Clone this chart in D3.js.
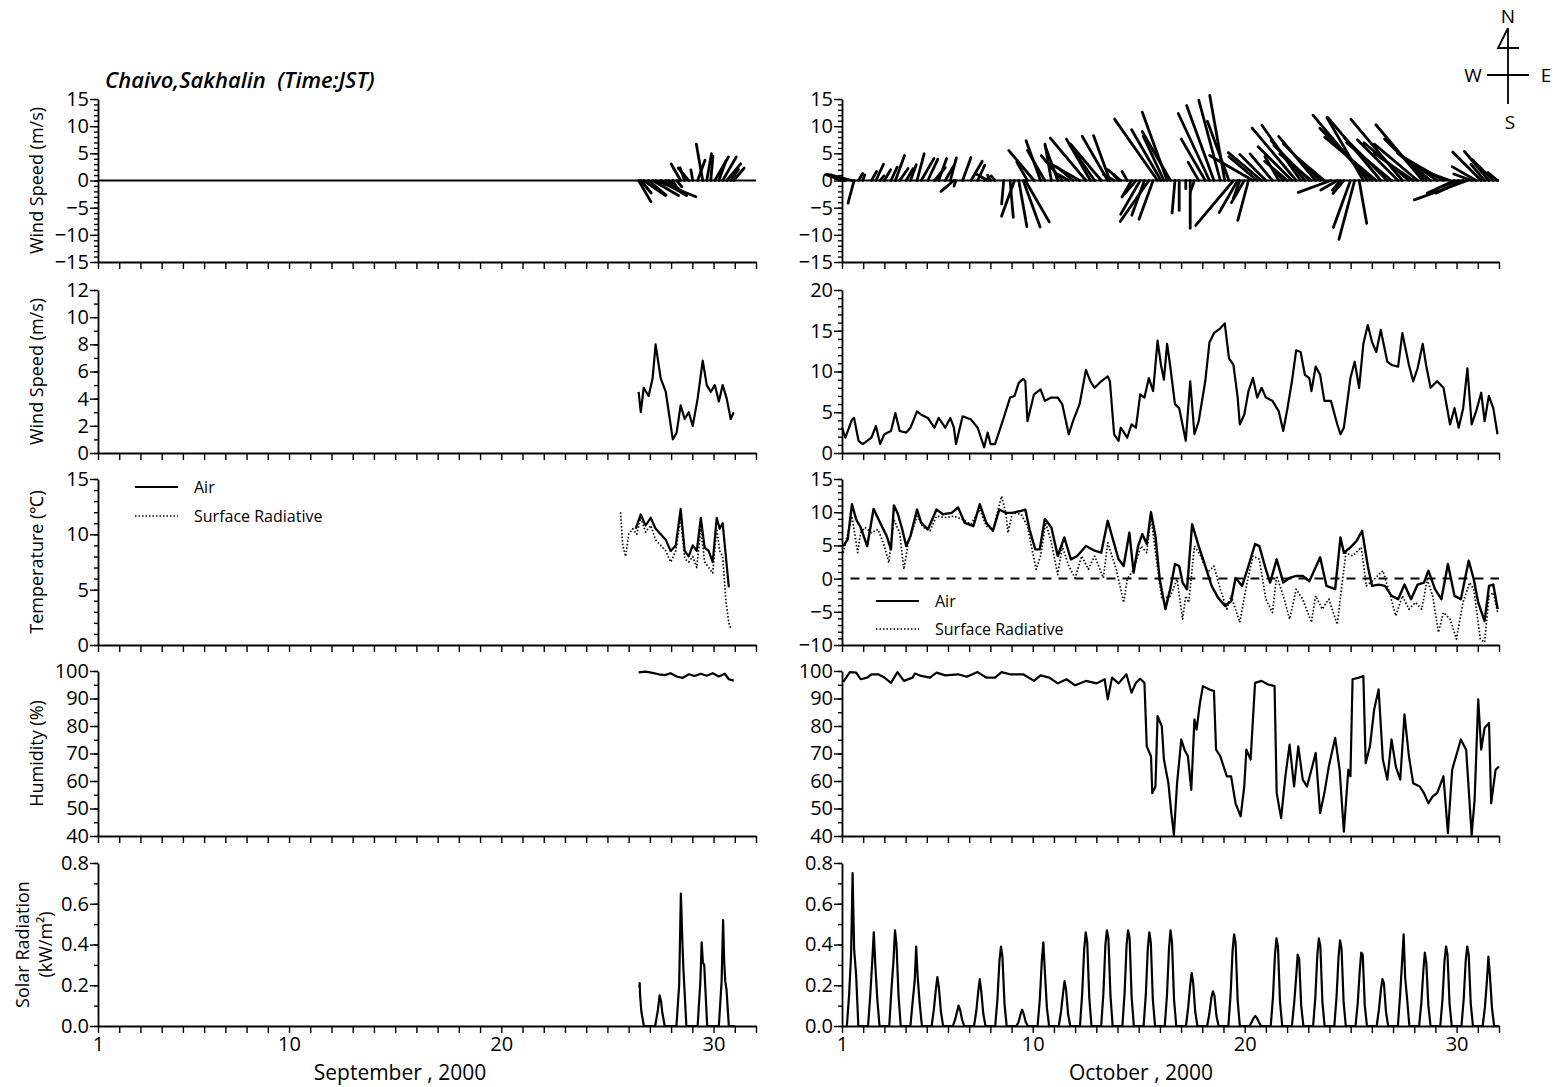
<!DOCTYPE html>
<html><head><meta charset="utf-8">
<script src="https://cdn.jsdelivr.net/npm/d3@7"></script>
<style>
body{margin:0;background:#fff}
svg{display:block}
text{font-family:"Open Sans",Lato,sans-serif;fill:#000}
</style>
</head><body>
<svg id="c" width="1555" height="1087"></svg>
<script>
// ---------------- DATA ----------------
const dayDomain = [1, 32];
const xTickLabels = [1, 10, 20, 30];
const monthLabels = ["September , 2000", "October , 2000"];
const titleText = "Chaivo,Sakhalin  (Time:JST)";
const yTitles = ["Wind Speed (m/s)", "Wind Speed (m/s)", "Temperature (\u2103)", "Humidity (%)", ["Solar Radiation", "(kW/m\u00B2)"]];
const legendLabels = ["Air", "Surface Radiative"];

// September wind (speed m/s, direction the stick points, deg from north)
const sepWsDay = [26.47,26.57,26.71,26.94,27.13,27.27,27.51,27.75,27.89,28.08,28.26,28.45,28.64,28.83,29.02,29.25,29.49,29.68,29.87,30.06,30.25,30.43,30.62,30.81,30.95];
const sepWs    = [4.5,3.0,4.8,4.2,5.5,8.0,5.5,4.5,3.0,1.0,1.5,3.5,2.5,3.0,2.0,4.0,6.8,5.0,4.5,5.0,3.8,5.0,4.0,2.5,3.0];
const sepWdir  = [150,140,125,130,120,112,120,125,130,150,140,330,340,320,350,20,350,10,5,30,20,30,40,35,40];

// October wind
const octWsDay = [1.00,1.16,1.47,1.57,1.78,1.98,2.39,2.60,2.80,3.00,3.31,3.52,3.72,4.03,4.23,4.54,4.74,5.05,5.36,5.56,5.87,6.11,6.28,6.38,6.69,7.09,7.40,7.71,7.87,8.01,8.22,8.63,8.93,9.14,9.34,9.55,9.65,9.75,10.06,10.37,10.57,10.88,11.18,11.39,11.70,11.90,12.21,12.51,12.72,12.92,13.23,13.54,13.64,13.84,14.05,14.15,14.46,14.66,14.87,15.07,15.27,15.48,15.68,15.89,16.05,16.19,16.34,16.50,16.71,16.91,17.22,17.43,17.63,17.83,18.14,18.34,18.55,18.85,19.06,19.26,19.47,19.67,19.77,19.98,20.18,20.39,20.59,20.80,21.00,21.31,21.61,21.82,22.02,22.23,22.43,22.64,22.84,23.05,23.15,23.35,23.56,23.76,24.07,24.37,24.52,24.68,24.99,25.19,25.40,25.60,25.81,26.01,26.21,26.42,26.73,26.93,27.24,27.44,27.75,27.95,28.16,28.40,28.56,28.77,29.08,29.38,29.69,29.90,30.10,30.31,30.51,30.71,30.92,31.16,31.32,31.52,31.73,31.93];
const octWs    = [3.1,1.9,4.1,4.3,1.5,1.1,1.9,3.3,1.1,2.3,2.7,4.9,2.7,2.5,3.1,5.1,4.7,4.3,3.1,4.3,3.1,4.3,3.1,1.1,4.5,4.1,3.1,0.7,2.5,1.1,1.1,4.3,6.8,7.0,8.6,9.1,8.8,3.9,7.2,7.8,6.4,6.8,6.8,6.0,2.3,3.9,6.0,10.2,8.8,8.0,8.8,9.4,8.8,2.3,1.5,3.1,1.9,3.5,3.1,7.2,6.8,9.2,7.6,13.8,10.8,9.0,13.4,10.4,6.0,5.5,1.5,8.8,2.3,3.9,8.8,13.6,14.7,15.3,15.9,11.6,10.8,6.8,3.5,4.7,7.6,9.2,6.8,8.0,6.8,6.4,5.1,2.7,5.5,8.8,12.6,12.4,9.6,9.2,7.6,10.6,9.6,6.4,6.4,3.5,2.3,3.1,9.2,11.2,8.0,13.4,15.7,13.6,12.4,15.1,11.2,10.8,10.6,14.7,10.8,8.8,10.4,13.4,10.8,8.0,8.8,8.0,3.5,5.5,3.1,5.5,10.4,3.5,5.1,7.4,3.9,7.0,5.5,2.3];
const octWdir  = [290,280,285,195,30,20,30,25,40,30,25,20,35,30,20,15,30,25,40,20,30,15,230,200,20,30,25,60,300,330,320,185,175,200,170,160,150,330,320,340,330,350,340,320,300,310,300,320,330,325,320,330,340,300,320,310,330,210,220,210,200,215,200,325,330,335,340,330,185,180,180,180,200,330,330,335,340,345,350,340,220,210,200,210,195,300,310,310,315,320,330,320,310,315,320,325,320,315,310,320,315,310,250,240,220,220,200,195,170,330,320,315,310,320,315,310,315,320,310,305,310,320,315,310,305,300,290,245,250,245,250,290,300,315,320,320,315,310];

// September temperature
const sepAirDay = [26.33,26.57,26.80,27.04,27.27,27.51,27.75,27.98,28.22,28.45,28.64,28.83,29.02,29.21,29.40,29.58,29.77,29.96,30.15,30.29,30.43,30.58,30.72];
const sepAir    = [10.5,11.8,10.8,11.5,10.5,10.0,9.5,8.5,9.0,12.3,8.5,8.0,9.0,8.5,11.5,8.8,8.5,7.5,11.5,10.5,11.0,8.0,5.2];
const sepSrfDay = [25.62,25.72,25.86,26.00,26.19,26.38,26.57,26.80,27.04,27.27,27.51,27.75,27.98,28.22,28.45,28.64,28.83,29.02,29.21,29.40,29.58,29.77,29.96,30.15,30.29,30.43,30.58,30.72,30.81];
const sepSrf    = [12.0,9.0,8.0,10.0,10.5,10.0,11.5,10.2,10.8,9.5,9.0,8.5,7.5,8.5,11.5,7.8,7.5,8.0,7.0,10.5,7.5,7.0,6.5,10.5,8.5,8.0,4.0,2.0,1.5];

// October temperature
const octAirDay = [1.06,1.27,1.47,1.67,1.88,2.19,2.49,2.80,3.11,3.31,3.45,3.62,3.82,4.03,4.23,4.54,4.74,5.05,5.46,5.76,6.17,6.48,6.79,7.20,7.50,7.81,8.12,8.42,8.73,9.04,9.45,9.65,9.85,10.12,10.33,10.57,10.88,11.18,11.49,11.80,12.10,12.51,12.92,13.23,13.54,13.74,14.05,14.29,14.56,14.76,14.97,15.17,15.38,15.58,15.79,15.99,16.26,16.50,16.71,16.91,17.07,17.28,17.52,17.83,18.14,18.44,18.75,19.06,19.36,19.57,19.88,20.18,20.49,20.69,21.00,21.20,21.51,21.82,22.12,22.43,22.74,23.05,23.35,23.56,23.86,24.27,24.52,24.68,24.99,25.29,25.54,25.81,26.01,26.32,26.62,26.93,27.24,27.54,27.85,28.16,28.46,28.67,28.98,29.28,29.59,29.90,30.20,30.57,30.81,31.02,31.32,31.53,31.73,31.94];
const octAir    = [4.9,5.9,11.2,8.9,7.7,4.9,10.5,8.4,6.4,4.4,11.0,9.9,7.7,4.9,6.4,10.4,8.4,7.4,10.4,9.7,9.9,10.7,8.4,7.9,11.2,8.4,7.2,10.4,9.9,9.9,10.2,10.4,7.4,4.4,4.4,9.0,7.7,3.4,6.2,2.9,3.4,4.9,4.2,3.9,8.7,6.4,2.9,1.9,6.9,0.9,4.9,6.7,5.2,10.0,6.4,-0.1,-4.6,-1.4,2.2,1.9,-0.6,-1.6,8.2,4.9,1.9,-1.1,-2.9,-4.1,-3.4,0.1,-1.1,1.9,5.2,4.9,1.4,-0.6,2.9,-0.6,0.1,0.4,0.4,-0.4,1.7,3.2,-1.1,-1.6,6.2,3.9,4.7,5.7,7.2,1.9,-1.1,-0.9,-1.1,-2.6,-3.1,-0.9,-3.1,-0.9,-0.6,1.2,-1.6,-3.1,2.2,-2.6,-3.1,2.7,-0.1,-3.6,-6.4,-1.1,-0.9,-4.6];
const octSrfDay = [1.06,1.47,1.74,1.88,2.08,2.39,2.70,3.00,3.21,3.45,3.72,3.92,4.13,4.54,4.84,5.15,5.46,5.87,6.28,6.69,7.09,7.50,7.81,8.12,8.53,8.73,8.83,9.04,9.45,9.75,10.00,10.16,10.37,10.61,10.88,11.18,11.39,11.70,12.00,12.31,12.62,12.92,13.33,13.54,13.94,14.29,14.46,14.76,15.11,15.38,15.58,15.79,16.09,16.50,16.81,17.07,17.22,17.36,17.63,17.93,18.24,18.55,18.85,19.16,19.36,19.77,20.08,20.39,20.69,21.00,21.31,21.51,21.82,22.12,22.43,22.74,23.15,23.35,23.66,23.97,24.37,24.58,24.78,25.09,25.50,25.74,26.11,26.52,26.83,27.13,27.44,27.75,28.06,28.36,28.61,28.87,29.14,29.38,29.69,29.99,30.30,30.61,30.81,31.12,31.32,31.53,31.73,31.94];
const octSrf    = [3.9,9.4,3.9,6.9,7.7,6.9,7.4,4.9,2.4,8.9,6.9,1.4,5.4,9.4,7.7,7.2,9.4,9.2,9.4,8.9,8.2,10.4,7.9,7.4,12.4,9.9,6.9,9.9,9.7,7.9,3.9,1.4,3.4,8.4,5.4,0.6,4.9,1.9,0.1,3.4,1.4,3.4,0.1,5.4,1.4,-3.6,-0.1,1.4,4.9,3.9,9.4,3.9,-3.1,-2.6,-0.1,-6.1,-2.6,-3.6,4.9,3.4,0.9,1.9,-1.6,-4.6,-2.6,-6.6,-1.1,3.4,2.9,-3.1,-5.1,0.4,-2.6,-6.1,-1.6,-3.1,-6.6,-2.6,-4.6,-3.1,-6.9,-1.1,3.9,3.4,4.7,-1.1,-0.1,1.2,-2.1,-5.6,-2.6,-4.6,-3.6,-4.6,-0.1,-2.6,-8.1,-5.1,-6.1,-9.1,-3.6,-0.6,-1.6,-9.1,-9.6,-2.6,-2.1,-5.1];

// Humidity
const sepRhDay = [26.47,26.80,27.13,27.42,27.70,27.98,28.26,28.55,28.83,29.11,29.40,29.68,29.96,30.25,30.53,30.72,30.95];
const sepRh    = [99.5,99.8,99.3,98.8,98.5,99.2,98.0,97.5,98.8,98.2,99.0,98.3,99.2,98.0,99.0,97.0,96.5];
const octRhDay = [1.06,1.37,1.67,1.88,2.19,2.39,2.70,3.00,3.31,3.62,3.92,4.33,4.44,4.74,5.15,5.46,5.87,6.48,6.89,7.40,7.81,8.22,8.53,8.93,9.55,10.06,10.37,10.78,11.18,11.59,12.00,12.51,13.02,13.39,13.54,13.74,14.05,14.42,14.66,14.87,15.07,15.27,15.38,15.58,15.64,15.79,15.89,16.09,16.19,16.40,16.54,16.66,16.81,17.01,17.16,17.32,17.48,17.63,17.73,17.89,18.03,18.34,18.55,18.65,18.85,19.16,19.36,19.57,19.81,19.98,20.08,20.28,20.49,20.80,21.10,21.41,21.51,21.72,21.92,22.12,22.33,22.53,22.74,22.94,23.15,23.35,23.56,23.76,23.97,24.27,24.48,24.68,24.89,24.99,25.09,25.40,25.60,25.71,25.91,26.11,26.32,26.52,26.73,26.93,27.13,27.34,27.54,27.75,27.95,28.26,28.46,28.67,28.87,29.08,29.38,29.59,29.79,30.20,30.45,30.71,30.85,31.02,31.16,31.32,31.53,31.63,31.84,32.00];
const octRh    = [96,99.6,99.4,97,97.6,98.8,98.8,97.6,95.7,99.6,96.4,97.6,99.1,98.2,97.6,99.4,98.4,98.8,97.9,99.6,97.6,97.6,99.6,98.8,98.8,96.4,98.4,97.6,95.5,97,94.8,96.4,95.5,97,89.7,97.6,95.5,98.8,92.1,95.7,97.2,95.7,72.6,69.0,55.6,58,83.6,79.9,67.8,59.2,48.3,40.4,59.2,75.1,71.4,69,56.8,82.4,78.7,88.4,94.5,93.3,92.7,71.4,69,61.7,61.7,51.9,47.1,58,71.4,67.8,95.7,96.4,95.1,94.5,55.6,46.5,61.7,73.2,58,72.6,60.5,58,64.1,70.2,48.3,55.6,65.3,75.7,64.1,41.6,64.1,61.7,97,97.6,98.2,66.5,72.6,86,93.3,67.8,60.5,75.1,65.3,60.5,84.2,69,59.2,58,55.6,51.9,54.4,55.6,61.7,41,64.1,75.1,71.4,40.4,53.2,89.7,71.4,79.3,81.1,51.9,64.1,65.3];

// Solar radiation (kW/m2)
const sepSolarDay = [26.50,26.52,26.54,26.60,26.72,27.25,27.38,27.46,27.53,27.58,27.70,28.25,28.38,28.46,28.53,28.58,28.72,29.25,29.38,29.44,29.50,29.56,29.70,30.25,30.38,30.45,30.50,30.55,30.61,30.72,31.00];
const sepSolar    = [0.19,0.21,0.15,0.07,0,0,0.08,0.15,0.12,0.07,0,0,0.20,0.65,0.42,0.28,0,0,0.22,0.41,0.31,0.30,0,0,0.22,0.52,0.32,0.22,0.18,0,0];
const solarHours  = [5.5, 8, 10.3, 12, 13.7, 16, 18.5];
const octSolar = [
 [0,0.15,0.35,0.75,0.38,0.25,0],[0,0.15,0.32,0.46,0.30,0.13,0],[0,0.18,0.32,0.47,0.40,0.15,0],
 [0,0.12,0.22,0.39,0.24,0.11,0],[0,0.08,0.18,0.24,0.19,0.07,0],[0,0.03,0.07,0.10,0.08,0.03,0],
 [0,0.07,0.17,0.23,0.17,0.06,0],[0,0.13,0.32,0.39,0.34,0.11,0],[0,0.02,0.06,0.08,0.06,0.02,0],
 [0,0.13,0.32,0.41,0.27,0.09,0],[0,0.07,0.16,0.22,0.18,0.06,0],[0,0.16,0.38,0.46,0.41,0.14,0],
 [0,0.16,0.40,0.47,0.43,0.15,0],[0,0.16,0.40,0.47,0.43,0.14,0],[0,0.15,0.38,0.46,0.41,0.13,0],
 [0,0.15,0.38,0.47,0.41,0.13,0],[0,0.09,0.20,0.26,0.21,0.07,0],[0,0.06,0.14,0.17,0.15,0.05,0],
 [0,0.15,0.37,0.45,0.41,0.13,0],[0,0.02,0.04,0.05,0.04,0.02,0],[0,0.14,0.35,0.43,0.39,0.12,0],
 [0,0.11,0.24,0.35,0.33,0.10,0],[0,0.14,0.35,0.43,0.39,0.12,0],[0,0.14,0.34,0.42,0.38,0.12,0],
 [0,0.11,0.27,0.36,0.35,0.10,0],[0,0.08,0.18,0.23,0.21,0.07,0],[0,0.15,0.32,0.45,0.24,0.13,0],
 [0,0.11,0.27,0.36,0.31,0.10,0],[0,0.13,0.32,0.39,0.35,0.11,0],[0,0.13,0.32,0.39,0.35,0.11,0],
 [0,0.09,0.22,0.34,0.25,0.09,0]
];

// ---------------- LAYOUT ----------------
const svg = d3.select("#c");
const cols = [{x0:98, x1:756}, {x0:842, x1:1499}];
const rows = [{t:99,b:262},{t:290,b:453},{t:479,b:645},{t:671,b:836},{t:863,b:1026}];
const yCfg = [
  [{d:[-15,15],maj:5,min:1,f:d3.format("d")},{d:[-15,15],maj:5,min:1,f:d3.format("d")}],
  [{d:[0,12],maj:2,min:1,f:d3.format("d")},{d:[0,20],maj:5,min:1,f:d3.format("d")}],
  [{d:[0,15],maj:5,min:1,f:d3.format("d")},{d:[-10,15],maj:5,min:1,f:d3.format("d")}],
  [{d:[40,100],maj:10,min:5,f:d3.format("d")},{d:[40,100],maj:10,min:5,f:d3.format("d")}],
  [{d:[0,0.8],maj:0.2,min:0.1,f:d3.format(".1f")},{d:[0,0.8],maj:0.2,min:0.1,f:d3.format(".1f")}]
];
const xs = cols.map(c => d3.scaleLinear().domain(dayDomain).range([c.x0, c.x1]));
const ys = rows.map((r,i) => [0,1].map(c => d3.scaleLinear().domain(yCfg[i][c].d).range([r.b, r.t])));

function rng(a,b,s){const o=[];for(let v=a;v<=b+1e-9;v+=s)o.push(+v.toFixed(4));return o;}

rows.forEach((r,ri) => {
  [0,1].forEach(ci => {
    const x = xs[ci], y = ys[ri][ci], cfg = yCfg[ri][ci], c = cols[ci];
    const gMin = svg.append("g").attr("transform",`translate(${c.x0},0)`)
      .call(d3.axisLeft(y).tickValues(rng(cfg.d[0],cfg.d[1],cfg.min)).tickSize(4).tickSizeOuter(0).tickFormat(""));
    gMin.select(".domain").remove();
    const gMaj = svg.append("g").attr("transform",`translate(${c.x0},0)`)
      .call(d3.axisLeft(y).tickValues(rng(cfg.d[0],cfg.d[1],cfg.maj)).tickSize(8).tickSizeOuter(0).tickPadding(1).tickFormat(cfg.f));
    gMaj.selectAll("text").style("font-size","20px").style("font-family","'Open Sans'");
    gMaj.select(".domain").attr("stroke-width",1.8);
    const gx = svg.append("g").attr("transform",`translate(0,${r.b})`)
      .call(d3.axisBottom(x).tickValues(d3.range(1,33)).tickSize(7).tickSizeOuter(0).tickPadding(4)
        .tickFormat(d => (ri===4 && xTickLabels.includes(d)) ? d : ""));
    gx.selectAll("text").style("font-size","20px").style("font-family","'Open Sans'");
    gx.select(".domain").attr("stroke-width",1.8);
  });
});
svg.selectAll(".tick line").attr("stroke-width",1.4);

// ---------------- MARKS ----------------
function series(days, vals){return days.map((d,i)=>[d, vals[i]]);}
function drawLine(ci, ri, data, opts={}) {
  const x = xs[ci], y = ys[ri][ci];
  svg.append("path").datum(data)
    .attr("d", d3.line().x(d=>x(d[0])).y(d=>y(d[1])))
    .attr("fill","none").attr("stroke","#000")
    .attr("stroke-width", opts.w || 2)
    .attr("stroke-linejoin","round")
    .attr("stroke-dasharray", opts.dash || null);
}

function drawSticks(ci, days, ws, dirs){
  const x = xs[ci], y = ys[0][ci];
  const y0 = y(0);
  svg.append("line").attr("x1",x(dayDomain[0])).attr("x2",x(dayDomain[1]))
    .attr("y1",y0).attr("y2",y0).attr("stroke","#000").attr("stroke-width",1.8);
  const sticks = days.map((d,i)=>{
    const a = dirs[i]*Math.PI/180;
    return {t:d, u: ws[i]*Math.sin(a), v: ws[i]*Math.cos(a)};
  });
  svg.append("g").selectAll("line").data(sticks).join("line")
    .attr("x1", d=>x(d.t)).attr("y1", y0)
    .attr("x2", d=>x(d.t) + (y0 - y(d.u)))
    .attr("y2", d=>y(d.v))
    .attr("stroke","#000").attr("stroke-width",2.8).attr("stroke-linecap","round");
}
drawSticks(0, sepWsDay, sepWs, sepWdir);
drawSticks(1, octWsDay, octWs, octWdir);

drawLine(0, 1, series(sepWsDay, sepWs), {w:2.2});
drawLine(1, 1, series(octWsDay, octWs), {w:2.2});

svg.append("line").attr("x1",xs[1](1.4)).attr("x2",xs[1](32)).attr("y1",ys[2][1](0)).attr("y2",ys[2][1](0))
  .attr("stroke","#000").attr("stroke-width",2).attr("stroke-dasharray","9,7");
drawLine(0, 2, series(sepSrfDay, sepSrf), {w:1.7, dash:"1.5,2"});
drawLine(0, 2, series(sepAirDay, sepAir), {w:2.2});
drawLine(1, 2, series(octSrfDay, octSrf), {w:1.7, dash:"1.5,2"});
drawLine(1, 2, series(octAirDay, octAir), {w:2.4});

drawLine(0, 3, series(sepRhDay, sepRh), {w:2.2});
drawLine(1, 3, series(octRhDay, octRh), {w:2.2});

drawLine(0, 4, series(sepSolarDay, sepSolar), {w:2.2});
const octSolarPts = [];
octSolar.forEach((vals, di) => vals.forEach((v, hi) => octSolarPts.push([di + 1 + solarHours[hi]/24, v])));
octSolarPts.push([32, 0]);
drawLine(1, 4, octSolarPts, {w:2.2});

// ---------------- TEXT ----------------
svg.append("text").attr("x",105).attr("y",88).attr("xml:space","preserve").style("white-space","pre")
  .style("font-size","22px").style("font-style","italic").style("font-weight","600").text(titleText);
const ttlY = rows.map(r => (r.t + r.b)/2);
yTitles.forEach((t,i)=>{
  if (Array.isArray(t)) {
    t.forEach((s,k)=>{
      svg.append("text").attr("transform",`translate(${29 + k*23},${ttlY[i]}) rotate(-90)`)
        .attr("text-anchor","middle").style("font-size","18px").text(s);
    });
  } else {
    svg.append("text").attr("transform",`translate(43,${ttlY[i]}) rotate(-90)`)
      .attr("text-anchor","middle").style("font-size","18px").text(t);
  }
});
svg.append("text").attr("x",400).attr("y",1080).attr("text-anchor","middle").style("font-size","21px").text(monthLabels[0]);
svg.append("text").attr("x",1141).attr("y",1080).attr("text-anchor","middle").style("font-size","21px").text(monthLabels[1]);

function legend(x, y1, y2) {
  svg.append("line").attr("x1",x).attr("x2",x+43).attr("y1",y1).attr("y2",y1).attr("stroke","#000").attr("stroke-width",2.2);
  svg.append("line").attr("x1",x).attr("x2",x+43).attr("y1",y2).attr("y2",y2).attr("stroke","#000").attr("stroke-width",1.5).attr("stroke-dasharray","1.5,2");
  svg.append("text").attr("x",x+59).attr("y",y1+6).style("font-size","16px").text(legendLabels[0]);
  svg.append("text").attr("x",x+59).attr("y",y2+6).style("font-size","16px").text(legendLabels[1]);
}
legend(135, 487, 516);
legend(876, 601, 629);

const cg = svg.append("g").attr("stroke","#000").attr("stroke-width",1.8).attr("fill","none");
cg.append("line").attr("x1",1508).attr("x2",1508).attr("y1",28).attr("y2",104);
cg.append("line").attr("x1",1487).attr("x2",1529).attr("y1",75).attr("y2",75);
cg.append("path").attr("d","M1508,28 L1498,48 L1519,48");
const ct = [["N",1508,23],["W",1473,82],["E",1546,82],["S",1510,129]];
ct.forEach(c=>svg.append("text").attr("x",c[1]).attr("y",c[2]).attr("text-anchor","middle").style("font-size","19px").text(c[0]));
</script>
</body></html>
